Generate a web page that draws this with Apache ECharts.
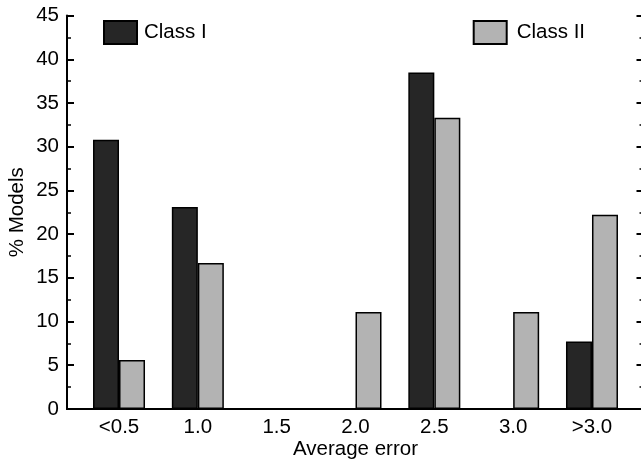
<!DOCTYPE html>
<html>
<head>
<meta charset="utf-8">
<script src="https://cdn.jsdelivr.net/npm/echarts@6/dist/echarts.min.js"></script>
<style>
  html, body { margin: 0; padding: 0; background: #fff; }
  #chart_container { width: 641px; height: 461px; }
</style>
</head>
<body>
<div id="chart_container"></div>
<script>
"use strict";

// data
const categories = ['<0.5', '1.0', '1.5', '2.0', '2.5', '3.0', '>3.0'];
const classI  = [30.8, 23.1, 0, 0, 38.5, 0, 7.7];
const classII = [5.6, 16.7, 0, 11.1, 33.3, 11.1, 22.2];
const seriesNames = ['Class I', 'Class II'];

const fontFam = '"Liberation Sans", Arial, Helvetica, sans-serif';
const fs = 20.5;

let myChart;

let pageLoaded = () => {
    let chartDom = document.getElementById('chart_container');
    myChart = echarts.init(chartDom, null, { renderer: 'canvas' });

    const frameLine = { show: true, lineStyle: { color: '#000', width: 2 } };
    const noThing = { show: false };
    const tick = { show: true, length: 7, lineStyle: { color: '#000', width: 2 } };
    const minor = { show: true, splitNumber: 2, length: 4, lineStyle: { color: '#000', width: 1.5 } };

    // frame grid spans from x=67 to just past the right edge
    const gridW = 641 + 2.5 - 67;

    let opt = {
        animation: false,
        textStyle: { fontFamily: fontFam, color: '#000' },
        grid: [
            // frame grid: axes lines and ticks
            { left: 67, right: -2.5, top: 15.6, bottom: 52.1, outerBoundsMode: 'none', containLabel: false },
            // bar grid
            { left: 79.6, right: 9.6, top: 15.6, bottom: 52.1, outerBoundsMode: 'none', containLabel: false },
        ],
        legend: [
            {
                data: [seriesNames[0]],
                left: 98, top: 15,
                icon: 'rect',
                itemWidth: 33, itemHeight: 23,
                itemGap: 0,
                textStyle: { fontFamily: fontFam, fontSize: fs, color: '#000', padding: [0, 0, 0, 2] },
            },
            {
                data: [seriesNames[1]],
                left: 467.7, top: 15,
                icon: 'rect',
                itemWidth: 33, itemHeight: 23,
                itemGap: 0,
                textStyle: { fontFamily: fontFam, fontSize: fs, color: '#000', padding: [0, 0, 0, 5] },
            },
        ],
        xAxis: [
            {
                type: 'value', gridIndex: 0, position: 'bottom', min: 0, max: 1,
                axisLine: frameLine, axisTick: noThing, axisLabel: noThing, splitLine: noThing,
            },
            {
                type: 'value', gridIndex: 0, position: 'top', min: 0, max: 1,
                axisLine: frameLine, axisTick: noThing, axisLabel: noThing, splitLine: noThing,
            },
            {
                type: 'category', gridIndex: 1, data: categories,
                axisLine: noThing, axisTick: noThing, splitLine: noThing,
                axisLabel: { fontFamily: fontFam, fontSize: fs, color: '#000', margin: 8 },
                name: 'Average error', nameLocation: 'middle', nameGap: 30, nameMoveOverlap: false,
                nameTextStyle: { fontFamily: fontFam, fontSize: fs, color: '#000' },
            },
        ],
        yAxis: [
            {
                // left axis: line, labels, name
                type: 'value', gridIndex: 0, position: 'left', min: 0, max: 45, interval: 5,
                axisLine: frameLine, axisTick: noThing,
                axisLabel: { fontFamily: fontFam, fontSize: fs, color: '#000', margin: 8 },
                splitLine: noThing,
                name: '% Models', nameLocation: 'middle', nameGap: 39, nameMoveOverlap: false,
                nameTextStyle: { fontFamily: fontFam, fontSize: fs, color: '#000' },
            },
            {
                // ticks on the right edge, pointing into the plot
                type: 'value', gridIndex: 0, position: 'left', offset: -gridW,
                min: 0, max: 45, interval: 5,
                axisLine: noThing, axisTick: tick, minorTick: minor,
                axisLabel: noThing, splitLine: noThing,
            },
            {
                // ticks on the left axis, pointing into the plot
                type: 'value', gridIndex: 0, position: 'right', offset: -gridW,
                min: 0, max: 45, interval: 5,
                axisLine: noThing, axisTick: tick, minorTick: minor,
                axisLabel: noThing, splitLine: noThing,
            },
            {
                type: 'value', gridIndex: 1, min: 0, max: 45, show: false,
                splitLine: noThing,
            },
        ],
        series: [
            {
                name: seriesNames[0], type: 'bar', data: classI,
                xAxisIndex: 2, yAxisIndex: 3,
                barWidth: 26, barGap: '0%',
                itemStyle: { color: '#262626', borderColor: '#000', borderWidth: 1.5 },
            },
            {
                name: seriesNames[1], type: 'bar', data: classII,
                xAxisIndex: 2, yAxisIndex: 3,
                barWidth: 26, barGap: '0%',
                itemStyle: { color: '#b3b3b3', borderColor: '#000', borderWidth: 1.5 },
            },
        ],
    };

    myChart.setOption(opt);
    console.log(`chart done`);
};

window.addEventListener('load', pageLoaded, false);
</script>
</body>
</html>
